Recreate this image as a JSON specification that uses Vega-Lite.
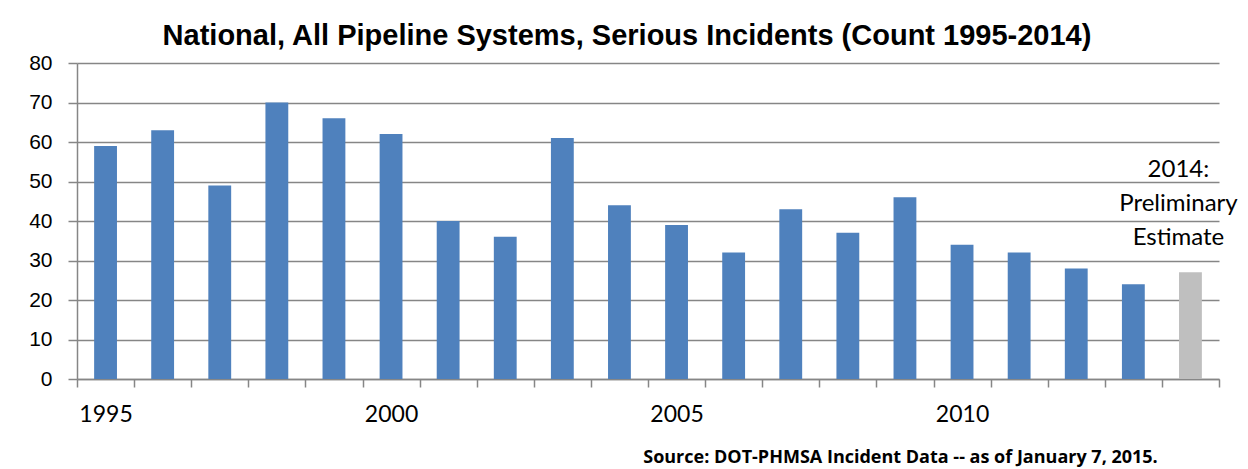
{
  "$schema": "https://vega.github.io/schema/vega-lite/v6.json",
  "width": 1142,
  "height": 316,
  "autosize": {"type": "none"},
  "padding": {"left": 77, "top": 63, "right": 29, "bottom": 90},
  "background": "white",
  "title": {
    "text": "National, All Pipeline Systems, Serious Incidents (Count 1995-2014)",
    "font": "Arial",
    "fontSize": 29,
    "fontWeight": "bold",
    "color": "black",
    "anchor": "middle",
    "frame": "group",
    "dx": -21,
    "offset": 1
  },
  "config": {"view": {"stroke": null}},
  "data": {
    "values": [
      {"year": 1995, "incidents": 59, "status": "Final"},
      {"year": 1996, "incidents": 63, "status": "Final"},
      {"year": 1997, "incidents": 49, "status": "Final"},
      {"year": 1998, "incidents": 70, "status": "Final"},
      {"year": 1999, "incidents": 66, "status": "Final"},
      {"year": 2000, "incidents": 62, "status": "Final"},
      {"year": 2001, "incidents": 40, "status": "Final"},
      {"year": 2002, "incidents": 36, "status": "Final"},
      {"year": 2003, "incidents": 61, "status": "Final"},
      {"year": 2004, "incidents": 44, "status": "Final"},
      {"year": 2005, "incidents": 39, "status": "Final"},
      {"year": 2006, "incidents": 32, "status": "Final"},
      {"year": 2007, "incidents": 43, "status": "Final"},
      {"year": 2008, "incidents": 37, "status": "Final"},
      {"year": 2009, "incidents": 46, "status": "Final"},
      {"year": 2010, "incidents": 34, "status": "Final"},
      {"year": 2011, "incidents": 32, "status": "Final"},
      {"year": 2012, "incidents": 28, "status": "Final"},
      {"year": 2013, "incidents": 24, "status": "Final"},
      {"year": 2014, "incidents": 27, "status": "Preliminary"}
    ]
  },
  "layer": [
    {
      "mark": {"type": "bar", "width": {"band": 0.4}},
      "encoding": {
        "x": {
          "field": "year",
          "type": "ordinal",
          "scale": {"paddingInner": 0, "paddingOuter": 0},
          "axis": {
            "title": "Source: DOT-PHMSA Incident Data -- as of January 7, 2015.",
            "titleFont": "Open Sans",
            "titleFontSize": 18,
            "titleFontWeight": "bold",
            "titleColor": "black",
            "titleAnchor": null,
            "titleAlign": "center",
            "titleBaseline": "alphabetic",
            "titleX": 823,
            "titleY": 83,
            "labelAngle": 0,
            "labelExpr": "datum.value % 5 == 0 ? datum.label : ''",
            "labelFont": "Lato",
            "labelFontSize": 23,
            "labelColor": "black",
            "labelPadding": 16,
            "tickBand": "extent",
            "tickSize": 8,
            "tickColor": "#868686",
            "tickWidth": 1.5,
            "domainColor": "#868686",
            "domainWidth": 1.5,
            "grid": false
          }
        },
        "y": {
          "field": "incidents",
          "type": "quantitative",
          "scale": {"domain": [0, 80], "nice": false},
          "axis": {
            "title": null,
            "tickCount": 8,
            "tickMinStep": 10,
            "labelOverlap": false,
            "labelFont": "Arial",
            "labelFontSize": 21,
            "labelColor": "black",
            "labelPadding": 16,
            "tickSize": 9,
            "tickColor": "#868686",
            "tickWidth": 1.5,
            "domainColor": "#868686",
            "domainWidth": 1.5,
            "grid": true,
            "gridColor": "#868686",
            "gridWidth": 1.5
          }
        },
        "color": {
          "field": "status",
          "type": "nominal",
          "scale": {"domain": ["Final", "Preliminary"], "range": ["#4F81BD", "#BFBFBF"]},
          "legend": null
        }
      }
    },
    {
      "data": {"values": [{"year": 2014, "note": ["2014:", "Preliminary", "Estimate"]}]},
      "mark": {
        "type": "text",
        "font": "Lato",
        "fontSize": 24,
        "lineHeight": 34,
        "align": "center",
        "baseline": "middle",
        "dx": -12,
        "color": "black"
      },
      "encoding": {
        "x": {"field": "year", "type": "ordinal"},
        "y": {"datum": 53, "type": "quantitative"},
        "text": {"field": "note"}
      }
    }
  ]
}
